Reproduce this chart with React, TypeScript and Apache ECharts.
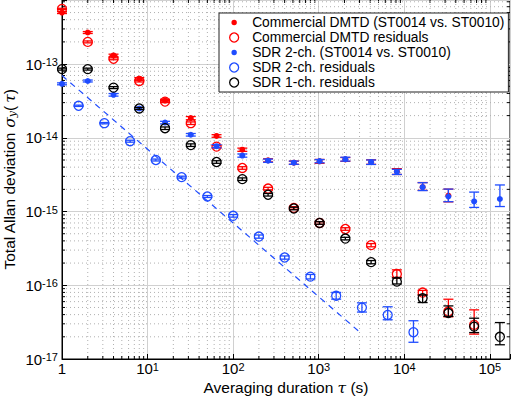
import React, { useEffect, useRef } from 'react';
import * as echarts from 'echarts';

// ---- data ----
const tauPow2 = [1, 2, 4, 8, 16, 32, 64, 128, 256, 512, 1024, 2048, 4096, 8192, 16384, 32768, 65536, 131072];
const tauSdr2Res = [1.5625, 3.125, 6.25, 12.5, 25, 50, 100, 200, 400, 800, 1600, 3200, 6400, 12800];

const dmtd = [5.0e-13, 2.68e-13, 1.31e-13, 6.3e-14, 3.2e-14, 1.85e-14, 1.06e-14, 6.9e-15, 4.95e-15, 4.6e-15, 4.8e-15, 5.1e-15, 4.7e-15, 3.5e-15, 2.15e-15, 1.65e-15];
const dmtdErrLo = [0.03, 0.03, 0.04, 0.04, 0.04, 0.05, 0.04, 0.05, 0.05, 0.05, 0.06, 0.06, 0.07, 0.09, 0.1, 0.18];
const dmtdErrHi = [0.03, 0.03, 0.04, 0.04, 0.04, 0.05, 0.04, 0.05, 0.05, 0.05, 0.06, 0.06, 0.07, 0.09, 0.15, 0.22];

const dmtdRes = [5.6e-13, 2.0e-13, 1.18e-13, 5.9e-14, 3.1e-14, 1.58e-14, 7.6e-15, 3.9e-15, 2.05e-15, 1.12e-15, 7.0e-16, 5.8e-16, 3.5e-16, 1.42e-16, 7.96e-17, 4.4e-17, 2.9e-17];
const dmtdResErrLo = [0.02, 0.03, 0.03, 0.03, 0.03, 0.04, 0.04, 0.04, 0.04, 0.04, 0.04, 0.04, 0.05, 0.1, 0.07, 0.15, 0.25];
const dmtdResErrHi = [0.02, 0.03, 0.03, 0.03, 0.03, 0.04, 0.04, 0.04, 0.04, 0.04, 0.04, 0.04, 0.05, 0.14, 0.07, 0.47, 0.6];

const sdr2 = [5.4e-14, 5.9e-14, 3.83e-14, 2.5e-14, 1.61e-14, 1.1e-14, 7.7e-15, 5.75e-15, 4.9e-15, 4.6e-15, 4.83e-15, 5.14e-15, 4.68e-15, 3.46e-15, 2.14e-15, 1.6e-15, 1.37e-15, 1.48e-15];
const sdr2ErrLo = [0.03, 0.03, 0.04, 0.04, 0.04, 0.04, 0.05, 0.05, 0.05, 0.05, 0.05, 0.06, 0.07, 0.08, 0.1, 0.15, 0.17, 0.21];
const sdr2ErrHi = [0.03, 0.03, 0.04, 0.04, 0.04, 0.04, 0.05, 0.05, 0.05, 0.05, 0.05, 0.06, 0.07, 0.08, 0.15, 0.26, 0.34, 0.55];

const sdr2Res = [2.72e-14, 1.58e-14, 9.0e-15, 5.0e-15, 2.93e-15, 1.6e-15, 8.75e-16, 4.58e-16, 2.38e-16, 1.31e-16, 7.2e-17, 4.98e-17, 3.96e-17, 2.31e-17];
const sdr2ResErrLo = [0.02, 0.02, 0.03, 0.03, 0.03, 0.03, 0.04, 0.05, 0.05, 0.07, 0.1, 0.13, 0.14, 0.27];
const sdr2ResErrHi = [0.02, 0.02, 0.03, 0.03, 0.03, 0.03, 0.04, 0.05, 0.05, 0.07, 0.11, 0.16, 0.29, 0.43];

const sdr1Res = [8.55e-14, 8.55e-14, 4.8e-14, 2.5e-14, 1.35e-14, 7.96e-15, 4.7e-15, 2.75e-15, 1.69e-15, 1.1e-15, 7.0e-16, 4.3e-16, 2.06e-16, 1.12e-16, 6.7e-17, 4.2e-17, 2.75e-17, 2.0e-17];
const sdr1ResErrLo = [0.03, 0.03, 0.03, 0.03, 0.04, 0.04, 0.04, 0.04, 0.04, 0.04, 0.04, 0.04, 0.05, 0.07, 0.13, 0.1, 0.17, 0.22];
const sdr1ResErrHi = [0.03, 0.03, 0.03, 0.03, 0.04, 0.04, 0.04, 0.04, 0.04, 0.04, 0.04, 0.04, 0.05, 0.12, 0.1, 0.25, 0.3, 0.56];

// dashed 1/tau reference line
const slopeLine = [[1, 7.0e-14], [3000, 2.33e-17]];

const names = [
  'Commercial DMTD (ST0014 vs. ST0010)',
  'Commercial DMTD residuals',
  'SDR 2-ch. (ST0014 vs. ST0010)',
  'SDR 2-ch. residuals',
  'SDR 1-ch. residuals',
];

const X_MIN = 1;
const X_MAX = 1.72e5;
const Y_MIN = 1e-17;
const Y_MAX = 7.4e-13;

const RED = '#ff0000';
const BLUE = '#1f4cff';
const BLACK = '#000000';
const FONT = 'Liberation Sans';

const mantissas = [2, 3, 4, 5, 6, 7, 8, 9];
const xDecades = [1, 10, 100, 1000, 10000, 100000];
const yDecades = [1e-17, 1e-16, 1e-15, 1e-14, 1e-13, 1e-12];

export default function App() {
  const ref = useRef<HTMLDivElement>(null);

  useEffect(() => {
    if (!ref.current) return;
    const chart = echarts.init(ref.current, undefined, { renderer: 'svg' });

    const xMinor: number[] = [];
    xDecades.forEach((d) => mantissas.forEach((m) => { const v = d * m; if (v < X_MAX) xMinor.push(v); }));
    const yMinor: number[] = [];
    yDecades.forEach((d) => mantissas.forEach((m) => { const v = d * m; if (v < Y_MAX) yMinor.push(v); }));

    const errData = (taus: number[], vals: number[], lo: number[], hi: number[]) =>
      vals.map((v, i) => [taus[i], v * (1 - lo[i]), v * (1 + hi[i])]);
    const ptData = (taus: number[], vals: number[]) => vals.map((v, i) => [taus[i], v]);

    const errSeries = (id: string, data: number[][], color: string, z: number) => ({
      type: 'custom',
      name: id,
      z,
      silent: true,
      data,
      encode: { x: 0, y: [1, 2] },
      renderItem: (params: any, api: any) => {
        const x = api.value(0);
        const p1 = api.coord([x, api.value(1)]);
        const p2 = api.coord([x, api.value(2)]);
        const w = 5;
        const style = { stroke: color, lineWidth: 1.3 };
        return {
          type: 'group',
          children: [
            { type: 'line', shape: { x1: p1[0], y1: p1[1], x2: p2[0], y2: p2[1] }, style },
            { type: 'line', shape: { x1: p1[0] - w, y1: p1[1], x2: p1[0] + w, y2: p1[1] }, style },
            { type: 'line', shape: { x1: p2[0] - w, y1: p2[1], x2: p2[0] + w, y2: p2[1] }, style },
          ],
        };
      },
    });

    const dotSeries = (name: string, data: number[][], color: string, z: number) => ({
      type: 'scatter', name, z, data, symbol: 'circle', symbolSize: 6,
      itemStyle: { color, opacity: 1 },
    });
    const ringSeries = (name: string, data: number[][], color: string, z: number) => ({
      type: 'scatter', name, z, data, symbol: 'circle', symbolSize: 9,
      itemStyle: { color: 'rgba(0,0,0,0)', borderColor: color, borderWidth: 1.3, opacity: 1 },
    });

    const gridStyle = { stroke: '#b0b0b0', lineWidth: 1, lineDash: [1, 3] };
    const tickStyle = { stroke: '#000', lineWidth: 1 };

    const xMinorSeries = {
      type: 'custom', name: 'xminor', z: 0, silent: true,
      data: xMinor.map((v) => [v, Y_MIN]),
      renderItem: (params: any, api: any) => {
        const cs = params.coordSys;
        const x = api.coord([api.value(0), Y_MIN])[0];
        return {
          type: 'group', children: [
            { type: 'line', shape: { x1: x, y1: cs.y, x2: x, y2: cs.y + cs.height }, style: gridStyle },
            { type: 'line', shape: { x1: x, y1: cs.y + cs.height, x2: x, y2: cs.y + cs.height - 3 }, style: tickStyle },
            { type: 'line', shape: { x1: x, y1: cs.y, x2: x, y2: cs.y + 3 }, style: tickStyle },
          ],
        };
      },
    };
    const yMinorSeries = {
      type: 'custom', name: 'yminor', z: 0, silent: true,
      data: yMinor.map((v) => [X_MIN, v]),
      renderItem: (params: any, api: any) => {
        const cs = params.coordSys;
        const y = api.coord([X_MIN, api.value(1)])[1];
        return {
          type: 'group', children: [
            { type: 'line', shape: { x1: cs.x, y1: y, x2: cs.x + cs.width, y2: y }, style: gridStyle },
            { type: 'line', shape: { x1: cs.x, y1: y, x2: cs.x + 3, y2: y }, style: tickStyle },
            { type: 'line', shape: { x1: cs.x + cs.width, y1: y, x2: cs.x + cs.width - 3, y2: y }, style: tickStyle },
          ],
        };
      },
    };

    const isDecade = (v: number) => Math.abs(Math.log10(v) - Math.round(Math.log10(v))) < 1e-6;
    const labelRich = {
      b: { fontSize: 15, fontFamily: FONT, color: '#000', lineHeight: 15, verticalAlign: 'bottom' },
      s: { fontSize: 11, fontFamily: FONT, color: '#000', lineHeight: 11, verticalAlign: 'top', padding: [0, 0, 9, 0] },
    };

    const option: any = {
      animation: false,
      backgroundColor: '#fff',
      textStyle: { fontFamily: FONT },
      grid: {
        left: 62, right: 10, top: 0, bottom: 37,
        outerBoundsMode: 'none', containLabel: false,
        show: true, borderColor: '#000', borderWidth: 1, backgroundColor: 'transparent',
      },
      xAxis: {
        type: 'log', logBase: 10, min: X_MIN, max: X_MAX,
        axisLine: { lineStyle: { color: '#000', width: 1 } },
        axisTick: { inside: true, length: 5, lineStyle: { color: '#000' } },
        splitLine: { show: true, lineStyle: { color: '#d0d0d0', width: 1 } },
        axisLabel: {
          margin: 2,
          formatter: (v: number) => {
            if (!isDecade(v)) return '';
            const e = Math.round(Math.log10(v));
            return e === 0 ? '{b|1}' : `{b|10}{s|${e}}`;
          },
          rich: labelRich,
        },
        name: 'Averaging duration {i|τ} (s)',
        nameLocation: 'middle',
        nameGap: 20,
        nameMoveOverlap: false,
        nameTextStyle: {
          fontSize: 15.5, fontFamily: FONT, color: '#000', lineHeight: 17,
          rich: { i: { fontSize: 15.5, fontFamily: 'DejaVu Serif', fontStyle: 'italic', color: '#000', lineHeight: 17 } },
        },
      },
      yAxis: {
        type: 'log', logBase: 10, min: Y_MIN, max: Y_MAX,
        axisLine: { lineStyle: { color: '#000', width: 1 } },
        axisTick: { inside: true, length: 5, lineStyle: { color: '#000' } },
        splitLine: { show: true, lineStyle: { color: '#d0d0d0', width: 1 } },
        axisLabel: {
          margin: 4,
          formatter: (v: number) => {
            if (!isDecade(v)) return '';
            const e = Math.round(Math.log10(v));
            return `{b|10}{s|${e}}`;
          },
          rich: labelRich,
        },
        name: 'Total Allan deviation {i|σ}{sub|y}(\u2009{i|τ})',
        nameLocation: 'middle',
        nameGap: 44,
        nameRotate: 90,
        nameMoveOverlap: false,
        nameTextStyle: {
          fontSize: 15.5, fontFamily: FONT, color: '#000', padding: [0, 0, 0, 0],
          rich: {
            i: { fontSize: 15.5, fontFamily: 'DejaVu Serif', fontStyle: 'italic', color: '#000' },
            sub: { fontSize: 11, fontFamily: 'DejaVu Serif', fontStyle: 'italic', color: '#000', padding: [6, 0, 0, 0] },
          },
        },
      },
      legend: {
        left: 219, top: 13,
        orient: 'vertical',
        backgroundColor: '#fff',
        borderColor: '#222', borderWidth: 1, borderRadius: 0,
        padding: [2, 4, 2, 10],
        itemGap: 0,
        itemWidth: 26, itemHeight: 9,
        selectedMode: false,
        textStyle: { fontSize: 13.8, fontFamily: FONT, color: '#000', lineHeight: 15, padding: [0, 0, 0, 0] },
        data: [
          { name: names[0], icon: 'path://M0,0M10,10M5,2A3,3,0,1,1,5,8A3,3,0,1,1,5,2Z', itemStyle: { color: RED, borderWidth: 0 } },
          { name: names[1], icon: 'circle', itemStyle: { color: 'rgba(0,0,0,0)', borderColor: RED, borderWidth: 1.3 } },
          { name: names[2], icon: 'path://M0,0M10,10M5,2A3,3,0,1,1,5,8A3,3,0,1,1,5,2Z', itemStyle: { color: BLUE, borderWidth: 0 } },
          { name: names[3], icon: 'circle', itemStyle: { color: 'rgba(0,0,0,0)', borderColor: BLUE, borderWidth: 1.3 } },
          { name: names[4], icon: 'circle', itemStyle: { color: 'rgba(0,0,0,0)', borderColor: BLACK, borderWidth: 1.3 } },
        ],
        z: 20,
      },
      series: [
        xMinorSeries,
        yMinorSeries,
        {
          type: 'line', name: 'slope', z: 2, data: slopeLine, showSymbol: false, silent: true,
          lineStyle: { color: BLUE, width: 1.2, type: [6, 5] },
        },
        errSeries('eb0', errData(tauPow2, dmtd, dmtdErrLo, dmtdErrHi), RED, 3),
        dotSeries(names[0], ptData(tauPow2, dmtd), RED, 3),
        errSeries('eb1', errData(tauPow2, dmtdRes, dmtdResErrLo, dmtdResErrHi), RED, 4),
        ringSeries(names[1], ptData(tauPow2, dmtdRes), RED, 4),
        errSeries('eb2', errData(tauPow2, sdr2, sdr2ErrLo, sdr2ErrHi), BLUE, 5),
        dotSeries(names[2], ptData(tauPow2, sdr2), BLUE, 5),
        errSeries('eb3', errData(tauSdr2Res, sdr2Res, sdr2ResErrLo, sdr2ResErrHi), BLUE, 6),
        ringSeries(names[3], ptData(tauSdr2Res, sdr2Res), BLUE, 6),
        errSeries('eb4', errData(tauPow2, sdr1Res, sdr1ResErrLo, sdr1ResErrHi), BLACK, 7),
        ringSeries(names[4], ptData(tauPow2, sdr1Res), BLACK, 7),
      ],
    };

    chart.setOption(option);
    return () => chart.dispose();
  }, []);

  return <div ref={ref} style={{ width: 520, height: 396, position: 'absolute', left: 0, top: 0, background: '#fff' }} />;
}
